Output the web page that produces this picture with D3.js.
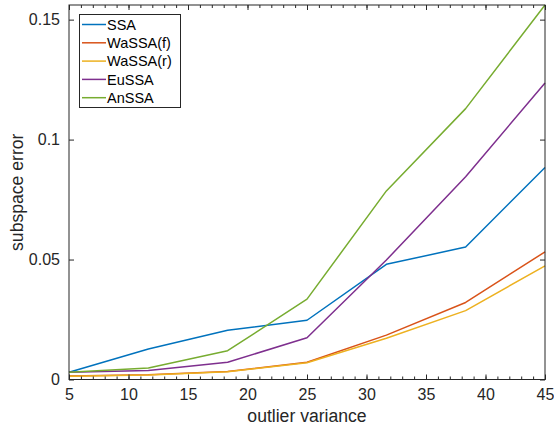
<!DOCTYPE html>
<html><head><meta charset="utf-8">
<script src="https://cdn.jsdelivr.net/npm/d3@7"></script>
<style>body{margin:0;background:#fff}svg{display:block}text{font-family:"Liberation Sans",Arial,Helvetica,sans-serif}</style>
</head><body>
<script>
const xValues = [5, 11.67, 18.33, 25, 31.67, 38.33, 45];
const seriesNames = ["SSA", "WaSSA(f)", "WaSSA(r)", "EuSSA", "AnSSA"];
const ssa   = [0.0030, 0.0127, 0.0205, 0.0247, 0.0480, 0.0552, 0.0884];
const wassaF = [0.0015, 0.0020, 0.0033, 0.0072, 0.0185, 0.0321, 0.0532];
const wassaR = [0.0014, 0.0019, 0.0032, 0.0070, 0.0172, 0.0287, 0.0474];
const eussa = [0.0030, 0.0038, 0.0072, 0.0174, 0.0498, 0.0845, 0.1236];
const anssa = [0.0030, 0.0048, 0.0120, 0.0335, 0.0786, 0.1129, 0.1561];
const xTicks = [5, 10, 15, 20, 25, 30, 35, 40, 45];
const yTicks = [0, 0.05, 0.1, 0.15];
const yTickLabels = ["0", "0.05", "0.1", "0.15"];
const colors = ["#0072BD", "#D95319", "#EDB120", "#7E2F8E", "#77AC30"];
const allSeries = [ssa, wassaF, wassaR, eussa, anssa];

const W = 554, H = 430;
const m = {left: 69, right: 9, top: 5, bottom: 50.5};
const axCol = "#262626";
const svg = d3.select("body").append("svg").attr("width", W).attr("height", H);
const x = d3.scaleLinear().domain([5, 45]).range([m.left, W - m.right]);
const y = d3.scaleLinear().domain([0, 0.1561]).range([H - m.bottom, m.top]);
const x0 = m.left, x1 = W - m.right, y0 = H - m.bottom, y1 = m.top;

// lines
const line = d3.line().x((d, i) => x(xValues[i])).y(d => y(d));
const g = svg.append("g");
allSeries.forEach((s, i) => {
  g.append("path").datum(s).attr("d", line).attr("fill", "none")
    .attr("stroke", colors[i]).attr("stroke-width", 1.5).attr("stroke-linejoin", "round");
});

// axes
const minorX = d3.range(5, 46, 1);
const bottomAx = d3.axisBottom(x).tickValues(xTicks).tickSize(-5).tickPadding(9).tickFormat(d3.format("d"));
const gb = svg.append("g").attr("transform", `translate(0,${y0})`).call(bottomAx);
const gt = svg.append("g").attr("transform", `translate(0,${y1})`).call(d3.axisTop(x).tickValues(xTicks).tickSize(-5).tickFormat(""));
const gbm = svg.append("g").attr("transform", `translate(0,${y0})`).call(d3.axisBottom(x).tickValues(minorX).tickSize(-3).tickFormat(""));
const gtm = svg.append("g").attr("transform", `translate(0,${y1})`).call(d3.axisTop(x).tickValues(minorX).tickSize(-3).tickFormat(""));
const gl = svg.append("g").attr("transform", `translate(${x0},0)`).call(d3.axisLeft(y).tickValues(yTicks).tickSize(-5).tickPadding(9).tickFormat((d, i) => yTickLabels[i]));
const gr = svg.append("g").attr("transform", `translate(${x1},0)`).call(d3.axisRight(y).tickValues(yTicks).tickSize(-5).tickFormat(""));
[gb, gt, gbm, gtm, gl, gr].forEach(a => {
  a.select(".domain").remove();
  a.selectAll("line").attr("stroke", axCol).attr("stroke-width", 1);
  a.selectAll("text").attr("fill", axCol).style("font-size", "16px");
});
svg.append("rect").attr("x", x0).attr("y", y1).attr("width", x1 - x0).attr("height", y0 - y1)
  .attr("fill", "none").attr("stroke", axCol).attr("stroke-width", 1);

// axis labels
svg.append("text").attr("x", (x0 + x1) / 2).attr("y", 422).attr("text-anchor", "middle")
  .attr("fill", axCol).style("font-size", "17.6px").text("outlier variance");
svg.append("text").attr("transform", `translate(23,${(y0 + y1) / 2}) rotate(-90)`).attr("text-anchor", "middle")
  .attr("fill", axCol).style("font-size", "17.6px").text("subspace error");

// legend
const lg = svg.append("g");
lg.append("rect").attr("x", 79.5).attr("y", 14.5).attr("width", 101).attr("height", 93)
  .attr("fill", "#fff").attr("stroke", axCol).attr("stroke-width", 1);
seriesNames.forEach((n, i) => {
  const yy = 24.5 + i * 18.3;
  lg.append("line").attr("x1", 82).attr("x2", 106).attr("y1", yy).attr("y2", yy)
    .attr("stroke", colors[i]).attr("stroke-width", 1.5);
  lg.append("text").attr("x", 107).attr("y", yy).attr("dy", "0.36em")
    .attr("fill", "#000").style("font-size", "14.5px").text(n);
});
</script>
</body></html>
